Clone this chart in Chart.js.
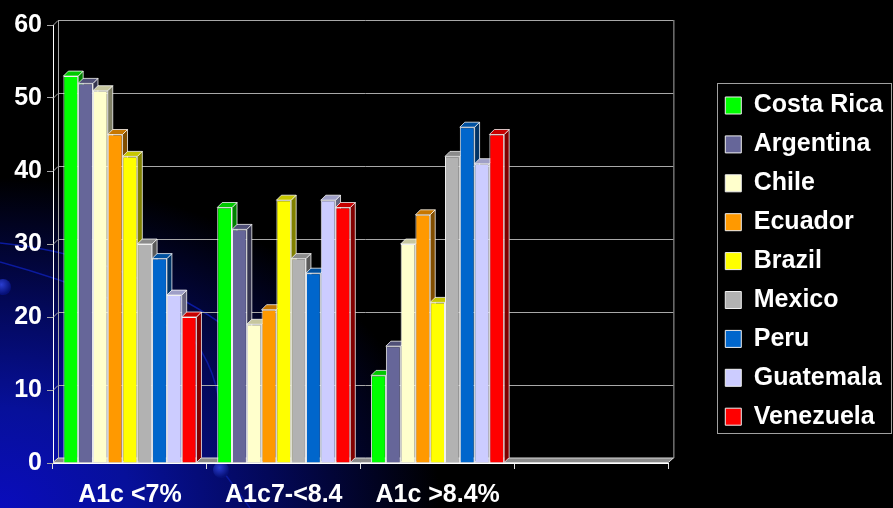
<!DOCTYPE html>
<html>
<head>
<meta charset="utf-8">
<script src="https://cdn.jsdelivr.net/npm/chart.js@4.4.1/dist/chart.umd.min.js"></script>
<style>
  html, body { margin: 0; padding: 0; background: #000; }
  #wrap {
    position: relative; width: 893px; height: 508px; overflow: hidden;
    background: radial-gradient(ellipse 440px 330px at 0% 100%, #0a0cbc 0%, #07109a 30%, #030858 62%, #000 100%);
  }
  #deco, #myChart { position: absolute; left: 0; top: 0; }
</style>
</head>
<body>
<div id="wrap">
  <svg id="deco" width="893" height="508">
    <defs>
      <radialGradient id="dot" cx="40%" cy="35%" r="60%">
        <stop offset="0%" stop-color="#2a3ed0"/>
        <stop offset="100%" stop-color="#061078"/>
      </radialGradient>
    </defs>
    <path d="M0,243 Q70,250 130,275 T230,330" stroke="#0b1a9e" stroke-width="1.5" fill="none"/>
    <path d="M0,262 Q120,295 195,342 Q228,385 222,470 L250,508" stroke="#0b1a9e" stroke-width="1.5" fill="none"/>
    <circle cx="3" cy="287" r="8" fill="url(#dot)"/>
    <circle cx="221" cy="470" r="8" fill="url(#dot)"/>
  </svg>
  <canvas id="myChart" width="893" height="508"></canvas>
</div>
<script>
const CATEGORIES = ['A1c <7%', 'A1c7-<8.4', 'A1c >8.4%', ''];
const COUNTRIES = ['Costa Rica', 'Argentina', 'Chile', 'Ecuador', 'Brazil', 'Mexico', 'Peru', 'Guatemala', 'Venezuela'];
const COLOURS = ['#00ff00', '#666699', '#ffffcc', '#ff9900', '#ffff00', '#b2b2b2', '#0066cc', '#ccccff', '#ff0000'];
const Y_TICKS = [0, 10, 20, 30, 40, 50, 60];

const costa_rica = [53, 35, 12];
const argentina  = [52, 32, 16];
const chile      = [51, 19, 30];
const ecuador    = [45, 21, 34];
const brazil     = [42, 36, 22];
const mexico     = [30, 28, 42];
const peru       = [28, 26, 46];
const guatemala  = [23, 36, 41];
const venezuela  = [20, 35, 45];
const SERIES = [costa_rica, argentina, chile, ecuador, brazil, mexico, peru, guatemala, venezuela];

const DEPTH = 5;

function shade(hex, f) {
        const n = parseInt(hex.slice(1), 16);
        const r = Math.round(((n >> 16) & 255) * f);
        const g = Math.round(((n >> 8) & 255) * f);
        const b = Math.round((n & 255) * f);
        return 'rgb(' + r + ',' + g + ',' + b + ')';
}

// back wall, floor and the top / side faces of each bar
const box3d = {
        id: 'box3d',
        beforeDatasetsDraw(chart) {
                const ctx = chart.ctx;
                const a = chart.chartArea;
                const y = chart.scales.y;
                const d = DEPTH;
                ctx.save();
                ctx.lineWidth = 1;
                ctx.strokeStyle = '#a8a8a8';
                for (const t of y.ticks) {
                        const py = Math.round(y.getPixelForValue(t.value)) + 0.5;
                        ctx.beginPath();
                        ctx.moveTo(a.left, py);
                        ctx.lineTo(a.left + d, py - d);
                        ctx.lineTo(a.right + d, py - d);
                        ctx.stroke();
                }
                ctx.beginPath();
                ctx.moveTo(a.left + d + 0.5, a.top - d);
                ctx.lineTo(a.left + d + 0.5, a.bottom - d);
                ctx.moveTo(a.right + d + 0.5, a.top - d);
                ctx.lineTo(a.right + d + 0.5, a.bottom - d);
                ctx.stroke();

                ctx.fillStyle = '#8a8a8a';
                ctx.strokeStyle = '#d8d8d8';
                ctx.beginPath();
                ctx.moveTo(a.left, a.bottom - 0.5);
                ctx.lineTo(a.left + d, a.bottom - d);
                ctx.lineTo(a.right + d, a.bottom - d);
                ctx.lineTo(a.right, a.bottom - 0.5);
                ctx.closePath();
                ctx.fill();
                ctx.stroke();

                ctx.strokeStyle = 'rgba(255,255,255,0.75)';
                chart.data.datasets.forEach((ds, i) => {
                        const meta = chart.getDatasetMeta(i);
                        if (meta.hidden) return;
                        meta.data.forEach(bar => {
                                const p = bar.getProps(['x', 'y', 'base', 'width'], true);
                                const l = p.x - p.width / 2, r = p.x + p.width / 2;
                                ctx.fillStyle = shade(ds.backgroundColor, 0.5);
                                ctx.beginPath();
                                ctx.moveTo(r, p.y);
                                ctx.lineTo(r + d, p.y - d);
                                ctx.lineTo(r + d, p.base - d);
                                ctx.lineTo(r, p.base);
                                ctx.closePath();
                                ctx.fill();
                                ctx.stroke();
                                ctx.fillStyle = shade(ds.backgroundColor, 0.78);
                                ctx.beginPath();
                                ctx.moveTo(l, p.y);
                                ctx.lineTo(l + d, p.y - d);
                                ctx.lineTo(r + d, p.y - d);
                                ctx.lineTo(r, p.y);
                                ctx.closePath();
                                ctx.fill();
                                ctx.stroke();
                        });
                });
                ctx.restore();
        }
};

// frame round the legend
const legendFrame = {
        id: 'legendFrame',
        afterDraw(chart) {
                const boxes = chart.legend.legendHitBoxes;
                if (!boxes || !boxes.length) return;
                let left = Infinity, top = Infinity, bottom = -Infinity;
                for (const h of boxes) {
                        left = Math.min(left, h.left);
                        top = Math.min(top, h.top);
                        bottom = Math.max(bottom, h.top + h.height);
                }
                const ctx = chart.ctx;
                ctx.save();
                ctx.strokeStyle = '#a0a0a0';
                ctx.lineWidth = 1;
                ctx.strokeRect(Math.round(left - 8) + 0.5, Math.round(top - 10) + 0.5,
                        chart.width - 2 - Math.round(left - 8), Math.round(bottom + 4 - (top - 10)));
                ctx.restore();
        }
};

Chart.defaults.font.family = '"Liberation Sans", Arial, sans-serif';
Chart.defaults.font.weight = 'bold';
Chart.defaults.color = '#ffffff';

const datasets = COUNTRIES.map((name, i) => ({
        label: name,
        data: SERIES[i],
        backgroundColor: COLOURS[i],
        borderColor: '#f0f0f0',
        borderWidth: 1,
        categoryPercentage: 0.865,
        barPercentage: 1.0
}));

const config = {
        type: 'bar',
        data: { labels: CATEGORIES, datasets: datasets },
        options: {
                responsive: false,
                animation: false,
                devicePixelRatio: 1,
                layout: { padding: { top: 25, left: 0, right: 0, bottom: 0 } },
                plugins: {
                        tooltip: { enabled: false },
                        legend: {
                                position: 'right',
                                fullSize: false,
                                maxWidth: 260,
                                // empty title only used as a spacer above the items
                                title: { display: true, text: '', font: { size: 12, lineHeight: 1.2 }, padding: { top: 19.8, bottom: 0 } },
                                labels: {
                                        color: '#ffffff',
                                        font: { size: 25, weight: 'bold' },
                                        boxWidth: 16,
                                        boxHeight: 17,
                                        padding: 13.9
                                }
                        }
                },
                scales: {
                        x: {
                                grid: { drawOnChartArea: false, color: '#e0e0e0', tickLength: 6 },
                                border: { color: '#ffffff', width: 1 },
                                ticks: { color: '#ffffff', font: { size: 25, weight: 'bold', lineHeight: 1 }, padding: 14, maxRotation: 0 },
                                afterFit: s => { s.height = 45; }
                        },
                        y: {
                                min: 0,
                                max: 60,
                                grid: { drawOnChartArea: false, color: '#a8a8a8', tickLength: 6 },
                                border: { color: '#ffffff', width: 1 },
                                ticks: { stepSize: 10, color: '#ffffff', font: { size: 25, weight: 'bold' }, padding: 5 },
                                afterFit: s => { s.width = 53; }
                        },
                        yr: {
                                type: 'linear',
                                position: 'right',
                                grid: { display: false },
                                border: { display: false },
                                ticks: { display: false },
                                afterFit: s => { s.width = 43; }
                        }
                }
        },
        plugins: [box3d, legendFrame]
};

const myChart = new Chart(document.getElementById('myChart'), config);
</script>
</body>
</html>
